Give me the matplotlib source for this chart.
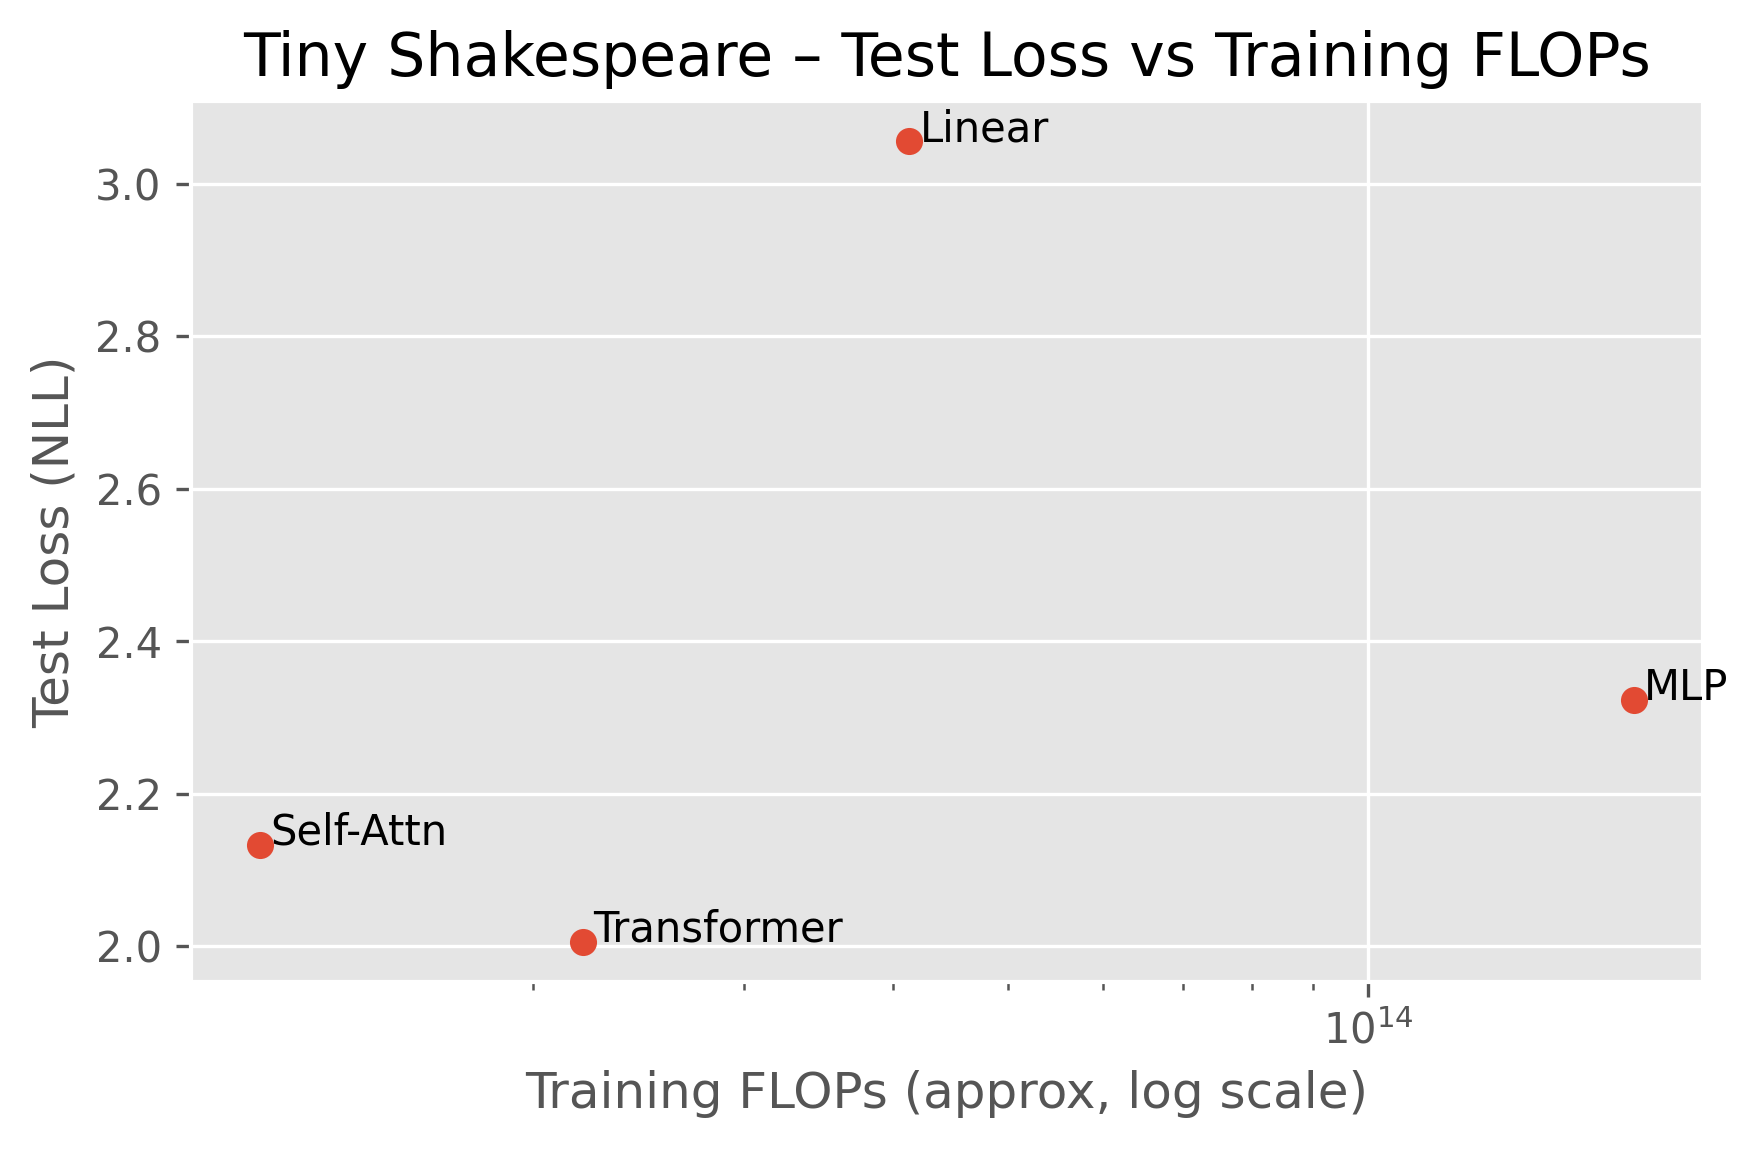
import matplotlib
matplotlib.use("Agg")
import matplotlib.pyplot as plt

plt.style.use("ggplot")

models = ["Linear", "MLP", "Self-Attn", "Transformer"]
flops = [4.13e13, 1.67e14, 1.18e13, 2.2e13]
test_loss = [3.056, 2.323, 2.133, 2.006]

fig, ax = plt.subplots(figsize=(1759 / 300, 1151 / 300), dpi=300)
ax.scatter(flops, test_loss)
for name, x, y in zip(models, flops, test_loss):
    ax.text(x * 1.02, y, name)

ax.set_xscale("log")
ax.set_xlabel("Training FLOPs (approx, log scale)")
ax.set_ylabel("Test Loss (NLL)")
ax.set_title("Tiny Shakespeare – Test Loss vs Training FLOPs")
fig.subplots_adjust(left=0.1085, right=0.968, top=0.912, bottom=0.147)
fig.savefig("out.png", dpi=300)
